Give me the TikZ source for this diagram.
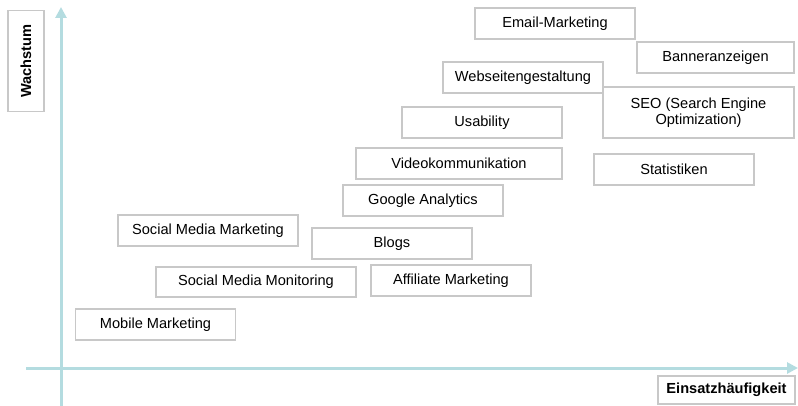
\documentclass[tikz,border=0pt]{standalone}
\usepackage{fontspec}
\setmainfont{Liberation Sans}
\usetikzlibrary{arrows.meta}

\definecolor{axisblue}{HTML}{B4DCE0}
\definecolor{boxgray}{HTML}{C8C8C8}

\tikzset{
    tool/.style={draw=boxgray, line width=1.2pt, fill=white, align=center,
        minimum width=160pt, minimum height=31pt, inner sep=2pt,
        font=\fontsize{14.6}{16}\selectfont},
    axislabel/.style={tool, font=\fontsize{14.6}{16}\selectfont\bfseries},
    axis/.style={draw=axisblue, line width=3pt,
        -{Triangle[length=11pt,width=11pt]}}
}

\begin{document}
\begin{tikzpicture}[x=1pt,y=-1pt]
    \useasboundingbox (0,0) rectangle (798,406);

    % axes
    \coordinate (ybottom) at (61,406);
    \coordinate (ytop) at (61,7);
    \coordinate (xleft) at (26,368);
    \coordinate (xright) at (798,368);
    \draw[axis] (ybottom) -- (ytop);
    \draw[axis] (xleft) -- (xright);

    % axis labels
    \node[axislabel, rotate=90, minimum width=101pt, minimum height=36pt] (wachstum) at (26,61) {Wachstum};
    \node[axislabel, minimum width=137pt, minimum height=28pt] (einsatz) at (726.5,390) {Einsatzhäufigkeit};

    % standard boxes
    \foreach \name/\x/\y/\txt in {
        email/555/23.5/Email-Marketing,
        webseite/523/77.5/Webseitengestaltung,
        usability/482/122.5/Usability,
        statistik/674/169.5/Statistiken,
        google/423/200.5/Google Analytics,
        blogs/392/243.5/Blogs,
        affiliate/451/280.5/Affiliate Marketing,
        mobile/155.5/324.5/Mobile Marketing}
    {
        \node[tool] (\name) at (\x,\y) {\txt};
    }

    % boxes of other size
    \node[tool, minimum width=157pt] (banner) at (715.5,57.5) {Banneranzeigen};
    \node[tool, minimum width=191pt, minimum height=51pt] (seo) at (698.5,112.5) {SEO (Search Engine\\Optimization)};
    \node[tool, minimum width=206pt] (video) at (459,163.5) {Videokommunikation};
    \node[tool, minimum width=180pt] (smm) at (208,230.5) {Social Media Marketing};
    \node[tool, minimum width=200pt, minimum height=30pt] (monitoring) at (256,282) {Social Media Monitoring};

\end{tikzpicture}
\end{document}
